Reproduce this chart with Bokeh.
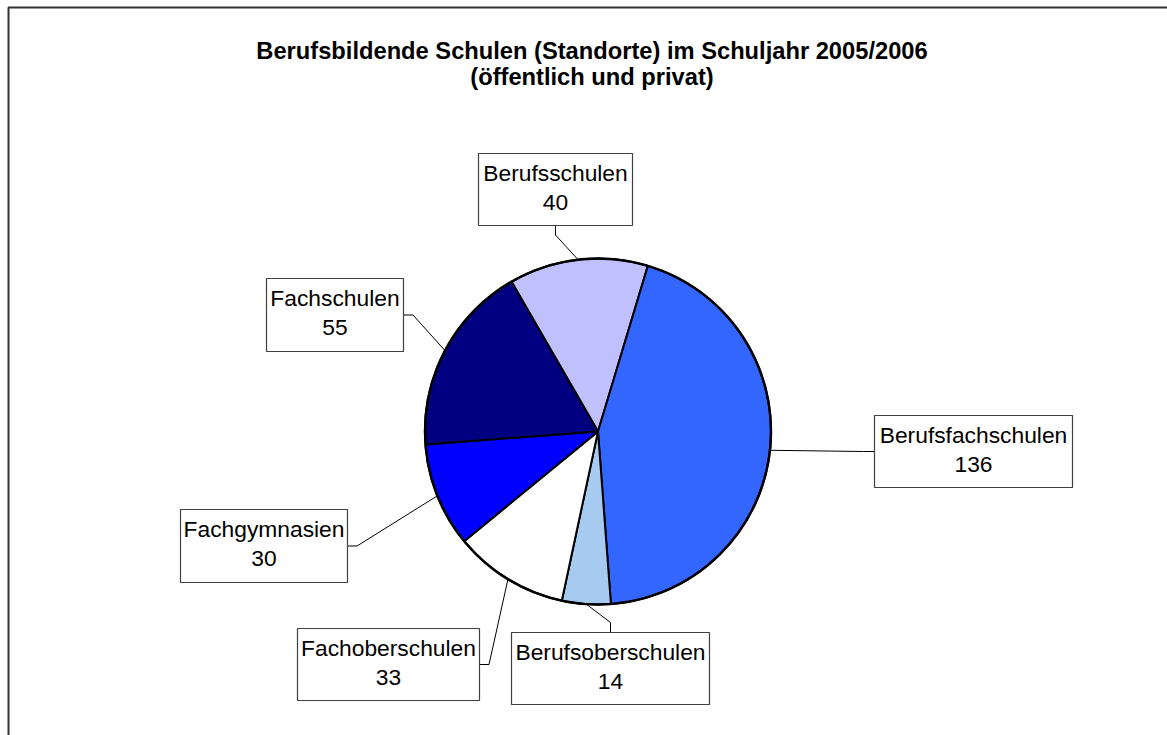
import math
from bokeh.plotting import figure
from bokeh.models import Range1d
from bokeh.core.properties import value
from bokeh.embed import file_html
from bokeh.resources import INLINE

# ---- data ----
categories = ["Berufsschulen", "Berufsfachschulen", "Berufsoberschulen",
              "Fachoberschulen", "Fachgymnasien", "Fachschulen"]
counts = [40, 136, 14, 33, 30, 55]
colors = ["#C0C0FF", "#3366FF", "#A6CAF0", "#FFFFFF", "#0000FF", "#000080"]
title_lines = ["Berufsbildende Schulen (Standorte) im Schuljahr 2005/2006",
               "(öffentlich und privat)"]

# ---- layout (page pixel coordinates) ----
W, H = 1167, 735
def X(px): return px
def Y(py): return H - py

cx, cy, R = X(597.5), Y(431), 173
start_deg = -30.0  # clockwise from 12 o'clock

# label boxes: left, right, top, bottom (page px), side of leader anchor
boxes = {
    "Berufsschulen":     (478, 632, 153, 225, "bottom"),
    "Berufsfachschulen": (874, 1072, 415, 487, "left"),
    "Berufsoberschulen": (511, 709, 632, 704, "top"),
    "Fachoberschulen":   (297, 479, 628, 700, "right"),
    "Fachgymnasien":     (180, 347, 509, 582, "right"),
    "Fachschulen":       (266, 403, 278, 351, "right"),
}

p = figure(width=W, height=H, output_backend="svg", toolbar_location=None,
           x_range=Range1d(0, W), y_range=Range1d(0, H),
           x_axis_location=None, y_axis_location=None, min_border=0)
p.grid.visible = False
p.outline_line_color = None
p.background_fill_color = "white"
p.border_fill_color = "white"

# outer chart border (top and left visible)
p.line([X(8), X(8), W], [0, Y(7), Y(7)], line_color="#333333", line_width=2)

total = sum(counts)
theta = start_deg
starts, ends, mids = [], [], []
for c in counts:
    span = c / total * 360.0
    starts.append(theta)
    ends.append(theta + span)
    mids.append(theta + span / 2)
    theta += span

# bokeh angles: counterclockwise from +x
sa = [math.radians(90 - e) for e in ends]
ea = [math.radians(90 - s) for s in starts]
p.wedge(x=cx, y=cy, radius=R, start_angle=sa, end_angle=ea,
        fill_color=colors, line_color="black", line_width=2)
p.circle(x=cx, y=cy, radius=R, fill_color=None, line_color="black", line_width=2.5)

# title
for line, base in zip(title_lines, [50, 76]):
    p.text(x=[X(591.5)], y=[Y(base)], text=[line], text_align="center",
           text_baseline="alphabetic", text_font=value("Liberation Sans"),
           text_font_style="bold", text_font_size="23.7px", text_color="black")

# labels with leader lines
for cat, cnt, m in zip(categories, counts, mids):
    l, r, t, b, side = boxes[cat]
    mx = cx + R * math.sin(math.radians(m))
    my = cy + R * math.cos(math.radians(m))
    if side == "bottom":
        ax, ay = (l + r) / 2, b; kx, ky = ax, ay + 9.5
    elif side == "top":
        ax, ay = (l + r) / 2, t; kx, ky = ax, ay - 10
    elif side == "left":
        ax, ay = l, (t + b) / 2; kx, ky = ax - 11, ay
    else:
        ax, ay = r, (t + b) / 2; kx, ky = ax + 9.5, ay
    p.line([X(ax), X(kx), mx], [Y(ay), Y(ky), my], line_color="black", line_width=1)
    p.quad(left=X(l), right=X(r), top=Y(t), bottom=Y(b), fill_color="white",
           line_color="#404040", line_width=1.2)
    xc = X((l + r) / 2)
    p.text(x=[xc, xc], y=[Y(t + 19.5), Y(t + 49)], text=[cat, str(cnt)],
           text_align="center", text_baseline="middle",
           text_font=value("Liberation Sans"), text_font_size="22.8px",
           text_color="black")

open("out.html", "w").write(file_html(p, INLINE))
